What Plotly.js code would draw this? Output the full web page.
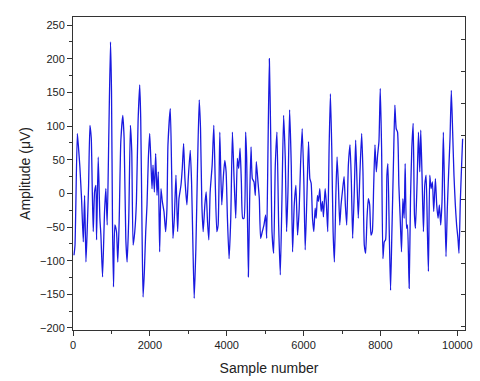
<!DOCTYPE html>
<html>
<head>
<meta charset="utf-8">
<script src="https://cdn.plot.ly/plotly-3.0.1.min.js"></script>
<style>
  body { margin: 0; background: #fff; }
  #eeg { width: 480px; height: 381px; }
</style>
</head>
<body>
<div id="eeg"></div>
<script>
// samples (sample number, amplitude in uV)
let sampleNo = [
  26, 52, 112, 138, 164, 181, 224, 268, 302, 337, 371, 406, 440, 475, 501, 527, 561, 596, 613, 656,
  700, 726, 769, 821, 855, 890, 933, 976, 1002, 1028, 1054, 1088, 1132, 1166, 1201, 1244, 1296, 1330, 1374, 1408,
  1451, 1494, 1529, 1564, 1607, 1650, 1693, 1736, 1762, 1797, 1823, 1857, 1892, 1926, 1961, 1996, 2030, 2056, 2082, 2117,
  2151, 2186, 2220, 2255, 2289, 2324, 2367, 2410, 2445, 2471, 2532, 2567, 2601, 2636, 2679, 2722, 2757, 2809, 2843, 2878,
  2912, 2964, 2999, 3051, 3085, 3120, 3154, 3197, 3241, 3284, 3318, 3353, 3387, 3431, 3465, 3500, 3534, 3569, 3621, 3664,
  3699, 3742, 3776, 3820, 3845, 3871, 3915, 3949, 3984, 4018, 4061, 4105, 4148, 4191, 4234, 4277, 4312, 4347, 4381, 4416,
  4450, 4493, 4519, 4563, 4597, 4632, 4666, 4709, 4744, 4770, 4813, 4848, 4882, 4925, 4969, 5012, 5040, 5074, 5109, 5143,
  5178, 5221, 5264, 5307, 5351, 5394, 5437, 5480, 5523, 5558, 5593, 5636, 5679, 5713, 5757, 5800, 5843, 5886, 5921, 5964,
  6007, 6042, 6085, 6128, 6163, 6197, 6232, 6266, 6301, 6327, 6361, 6387, 6422, 6457, 6491, 6517, 6560, 6595, 6629, 6664,
  6698, 6733, 6768, 6802, 6837, 6871, 6906, 6941, 6975, 7009, 7053, 7087, 7122, 7165, 7208, 7243, 7277, 7321, 7355, 7390,
  7424, 7467, 7511, 7545, 7580, 7615, 7650, 7684, 7719, 7753, 7788, 7822, 7857, 7892, 7926, 7961, 7995, 8030, 8064, 8099,
  8134, 8168, 8194, 8229, 8263, 8298, 8341, 8375, 8410, 8445, 8479, 8514, 8548, 8583, 8617, 8643, 8678, 8704, 8747, 8782,
  8816, 8851, 8885, 8911, 8954, 8989, 9023, 9049, 9084, 9118, 9153, 9188, 9222, 9248, 9283, 9317, 9352, 9386, 9430, 9464,
  9499, 9533, 9568, 9602, 9637, 9671, 9706, 9740, 9775, 9810, 9844, 9879, 9913, 9948, 9982, 10017, 10043, 10078, 10112, 10138
];
let amplitude = [
  -92, -77, 89, 72, 52, 37, -10, -72, -3, -102, -52, 12, 101, 82, 7, -57, 2, 12, -69, 54,
  -37, -62, -124, -27, 7, -47, 91, 225, 151, -47, -139, -47, -57, -102, -42, 77, 116, 82, -67, -102,
  -37, 101, 62, -77, -57, -12, 106, 161, 111, -57, -154, -116, -57, -17, 52, 89, 42, 7, 42, 2,
  59, -3, 32, -87, 7, -12, -27, -57, -22, 72, 126, 32, -67, -37, 27, -57, -8, 12, 37, 74,
  22, -17, 22, 64, 17, -77, -156, -82, 42, 139, 96, -17, -57, -17, 2, -42, -69, 2, 42, 101,
  22, -57, -47, 91, 32, -17, 27, 49, 32, -37, -97, -37, 91, 22, -37, 52, 37, 67, 17, -37,
  -37, 91, 52, -124, -8, 69, 22, 17, -3, 47, 17, -8, -67, -57, -47, -32, -67, 67, 200, 91,
  -57, -89, 42, 91, -47, -121, -8, 116, 52, -57, 2, 124, 42, -87, -17, 12, -62, -22, 42, 96,
  17, -84, -8, 77, 22, 15, -37, -57, -22, -37, -3, -12, 7, -27, -12, -35, 7, -17, -57, 67,
  148, 67, -57, -102, -8, 54, 12, -47, -17, 2, 25, -17, -47, 42, 72, 17, -67, 7, 79, 17,
  -37, 32, 89, 32, -77, -89, -37, -8, -17, -62, -57, 7, 72, 32, 57, 77, 156, 67, -97, -72,
  -69, 27, 44, -57, -144, -57, 52, 131, 96, 91, 12, -37, -87, -8, -37, 44, -52, -47, -141, -8,
  67, 104, -32, -52, 17, 91, 32, 94, 22, -57, 12, 27, -57, -116, 27, 7, 17, -27, 22, -17,
  -37, -17, -47, -12, 91, -8, -94, -22, 32, 81, 153, 91, 27, -17, -47, -67, -89, -12, 42, 81
];

let xTickVals = [0, 2000, 4000, 6000, 8000, 10000];
let xTickText = ['0', '2000', '4000', '6000', '8000', '10000'];
let yTickVals = [-200, -150, -100, -50, 0, 50, 100, 150, 200, 250];

let trace = {
  x: sampleNo,
  y: amplitude,
  mode: 'lines',
  type: 'scatter',
  line: { color: '#1a1ae0', width: 1.3, shape: 'spline', smoothing: 0.5 },
  hoverinfo: 'x+y'
};

// invisible trace only to carry the right hand mirror axis
let mirror = {
  x: [0],
  y: [0],
  yaxis: 'y2',
  mode: 'markers',
  marker: { opacity: 0 },
  hoverinfo: 'skip',
  showlegend: false
};

var layout = {
  width: 480,
  height: 381,
  margin: { l: 73, r: 15, t: 17, b: 51 },
  paper_bgcolor: '#ffffff',
  plot_bgcolor: '#ffffff',
  showlegend: false,
  font: { family: 'Liberation Sans, Arial, sans-serif', size: 11, color: '#222' },

  xaxis: {
    title: { text: 'Sample number', font: { size: 14, color: '#222' }, standoff: 12 },
    range: [0, 10200],
    tickvals: xTickVals,
    ticktext: xTickText,
    ticks: 'outside',
    ticklen: 5,
    tickcolor: '#333',
    minor: { dtick: 1000, ticks: 'outside', ticklen: 3, tickcolor: '#333' },
    showgrid: false,
    zeroline: false,
    showline: true,
    linecolor: '#333',
    linewidth: 1,
    mirror: true
  },
  yaxis: {
    title: { text: 'Amplitude (μV)', font: { size: 14, color: '#222' }, standoff: 6 },
    range: [-203, 262],
    tickvals: yTickVals,
    ticks: 'outside',
    ticklen: 5,
    tickcolor: '#333',
    minor: { dtick: 25, ticks: 'outside', ticklen: 3, tickcolor: '#333' },
    showgrid: false,
    zeroline: false,
    showline: true,
    linecolor: '#333',
    linewidth: 1,
    mirror: true
  },
  yaxis2: {
    overlaying: 'y',
    side: 'right',
    range: [-205, 286],
    dtick: 50,
    ticks: 'inside',
    ticklen: 4,
    tickcolor: '#333',
    showticklabels: false,
    showgrid: false,
    zeroline: false,
    showline: false
  }
};

Plotly.newPlot('eeg', [trace, mirror], layout, { displayModeBar: false, staticPlot: true });
</script>
</body>
</html>
